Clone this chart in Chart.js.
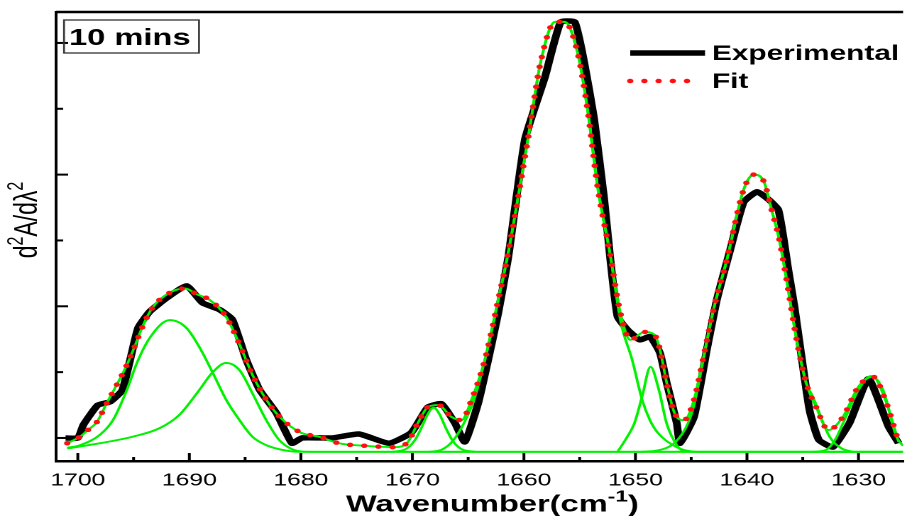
<!DOCTYPE html>
<html lang="en">
<head>
<meta charset="UTF-8">
<title>10 mins - second derivative fit</title>
<style>
  html, body { margin: 0; padding: 0; background: #fff; overflow: hidden; }
  /* the reference picture is stretched sideways, so the whole chart is too */
  #wrap { width: 639px; height: 516px; transform: scaleX(1.4194); transform-origin: 0 0; }
</style>
</head>
<body>
<div id="wrap"><canvas id="fitChart"></canvas></div>
<script src="https://cdn.jsdelivr.net/npm/chart.js"></script>
<script>
// [wavenumber, d2A/dl2]
const experimental = [
  [1701.1, 0], [1700.0, 0], [1699.5, 0.20], [1698.2, 0.50], [1697.1, 0.55], [1696.0, 0.73],
  [1694.6, 1.67], [1693.55, 1.92], [1692.0, 2.13], [1690.25, 2.31], [1688.8, 2.05], [1687.3, 1.95],
  [1686.15, 1.80], [1684.9, 1.19], [1683.7, 0.73], [1682.2, 0.38], [1680.8, -0.08], [1679.9, 0],
  [1677.2, 0], [1674.8, 0.06], [1672.1, -0.08], [1670.1, 0.08], [1668.6, 0.47], [1667.4, 0.52],
  [1666.2, 0.23], [1665.3, -0.06], [1664.1, 0.53], [1663.2, 1.19], [1662.3, 1.90], [1661.4, 2.75],
  [1659.9, 4.54], [1658.1, 5.49], [1656.7, 6.32], [1655.45, 6.32], [1654.6, 5.71], [1653.7, 4.84],
  [1652.8, 3.62], [1652.25, 2.71], [1651.6, 1.84], [1650.7, 1.64], [1649.6, 1.49], [1648.7, 1.54],
  [1647.8, 1.29], [1647.2, 0.84], [1646.3, 0.23], [1646.0, -0.08], [1644.75, 0.32], [1643.6, 1.34],
  [1642.7, 2.10], [1641.5, 2.86], [1640.3, 3.58], [1639.1, 3.74], [1638.05, 3.62], [1637.2, 3.47],
  [1636.7, 3.01], [1636.3, 2.56], [1635.75, 2.0], [1634.4, 0.43], [1633.55, -0.03], [1632.3, -0.14],
  [1630.8, 0.23], [1629.1, 0.90], [1627.3, 0.17], [1626.4, -0.08]
];
const fit = [
  [1700.95, -0.08], [1699.8, 0.02], [1699.1, 0.12], [1698.3, 0.24], [1697.4, 0.53], [1696.5, 0.81],
  [1695.6, 1.11], [1694.9, 1.39], [1694.2, 1.69], [1693.3, 1.98], [1691.6, 2.22], [1690.4, 2.27],
  [1689.3, 2.18], [1688.2, 2.10], [1686.7, 1.84], [1685.5, 1.42], [1684.35, 0.96], [1683.1, 0.58],
  [1681.9, 0.32], [1680.0, 0.08], [1678.4, 0.02], [1676.6, -0.08], [1674.2, -0.12], [1671.5, -0.14],
  [1670.4, -0.06], [1669.5, 0.23], [1668.6, 0.47], [1667.7, 0.50], [1666.5, 0.32], [1665.6, 0.27],
  [1664.7, 0.58], [1663.5, 1.19], [1662.3, 2.10], [1661.4, 2.82], [1659.6, 4.58], [1658.5, 5.71],
  [1657.2, 6.32], [1656.35, 6.32], [1655.2, 5.86], [1654.3, 4.99], [1653.4, 3.82], [1652.3, 2.82],
  [1651.35, 1.90], [1650.45, 1.49], [1649.2, 1.61], [1648.3, 1.57], [1647.8, 1.34], [1647.2, 0.84],
  [1646.5, 0.38], [1645.65, 0.27], [1644.75, 0.58], [1643.9, 1.23], [1643.0, 1.95], [1641.8, 2.71],
  [1640.3, 3.77], [1639.4, 4.00], [1638.5, 3.90], [1637.8, 3.47], [1637.1, 3.01], [1636.45, 2.40],
  [1635.6, 1.54], [1634.7, 0.84], [1633.8, 0.47], [1632.7, 0.12], [1631.4, 0.32], [1630.0, 0.78],
  [1628.7, 0.93], [1627.6, 0.58], [1626.4, -0.06]
];
// fitted component bands
const band1692 = [
  [1700.95, -0.15], [1699.8, -0.11], [1698.0, 0.05], [1696.85, 0.27], [1695.6, 0.73], [1694.7, 1.14],
  [1693.55, 1.52], [1691.75, 1.79], [1690.25, 1.67], [1689.1, 1.38], [1687.9, 0.99], [1686.7, 0.58],
  [1685.5, 0.27], [1684.35, 0.02], [1683.1, -0.11], [1681.7, -0.18], [1680.2, -0.21], [1626, -0.21]
];
const band1687 = [
  [1700.95, -0.16], [1698.0, -0.08], [1695.05, 0.02], [1692.65, 0.15], [1690.9, 0.35], [1689.1, 0.73],
  [1687.9, 1.0], [1686.7, 1.14], [1685.5, 1.03], [1684.35, 0.68], [1683.1, 0.27], [1681.95, -0.03],
  [1680.8, -0.17], [1679.3, -0.21], [1626, -0.21]
];
const band1668 = [
  [1671.8, -0.21], [1670.6, -0.17], [1669.8, -0.04], [1669.2, 0.15], [1668.6, 0.37], [1668.1, 0.46],
  [1667.6, 0.37], [1667.0, 0.15], [1666.4, -0.04], [1665.6, -0.17], [1664.4, -0.21]
];
const band1656 = [
  [1668.5, -0.21], [1667.4, -0.18], [1666.4, -0.05], [1665.3, 0.25], [1664.4, 0.62], [1663.5, 1.19],
  [1662.3, 2.10], [1661.4, 2.82], [1659.6, 4.58], [1658.5, 5.71], [1657.2, 6.32], [1656.35, 6.32],
  [1655.2, 5.86], [1654.3, 4.99], [1653.4, 3.82], [1652.3, 2.82], [1651.3, 1.75], [1650.3, 1.19],
  [1649.4, 0.58], [1648.7, 0.27], [1648.0, 0.08], [1646.3, -0.14], [1644.5, -0.21], [1626, -0.21]
];
const band1649 = [
  [1651.6, -0.21], [1650.8, 0.0], [1650.1, 0.22], [1649.4, 0.63], [1648.65, 1.08], [1647.9, 0.73],
  [1647.2, 0.22], [1646.3, -0.11], [1645.7, -0.21]
];
const band1639 = [
  [1649.5, -0.21], [1648.0, -0.19], [1646.4, -0.06], [1645.3, 0.22], [1644.75, 0.50], [1643.9, 1.2],
  [1643.0, 1.95], [1641.8, 2.71], [1640.3, 3.77], [1639.4, 4.00], [1638.5, 3.90], [1637.8, 3.47],
  [1637.1, 3.01], [1636.45, 2.40], [1635.6, 1.54], [1634.7, 0.84], [1634.1, 0.63], [1632.6, 0.02],
  [1631.5, -0.16], [1630.5, -0.21]
];
const band1629 = [
  [1634.0, -0.21], [1632.9, -0.18], [1632.0, 0.0], [1631.4, 0.22], [1630.0, 0.73], [1628.9, 0.94],
  [1627.8, 0.73], [1626.6, 0.02], [1626, -0.12]
];
const bands = [band1692, band1687, band1668, band1656, band1649, band1639, band1629];

const xTickValues = [1630, 1635, 1640, 1645, 1650, 1655, 1660, 1665, 1670, 1675, 1680, 1685, 1690, 1695, 1700];
const yTickValues = [0, 1, 2, 3, 4, 5, 6];

const pts = arr => arr.map(p => ({x: p[0], y: p[1]}));
const FONT = 'Arial, "Liberation Sans", sans-serif';

// text with real superscripts, centred on (cx, cy)
function richText(ctx, parts, cx, cy, size, weight) {
  const supSize = Math.round(size * 0.68);
  const fontOf = p => `${weight} ${p.sup ? supSize : size}px ${FONT}`;
  let total = 0;
  parts.forEach(p => { ctx.font = fontOf(p); total += ctx.measureText(p.t).width; });
  let x = cx - total / 2;
  ctx.textAlign = 'left';
  ctx.textBaseline = 'alphabetic';
  const base = cy + size * 0.36;
  parts.forEach(p => {
    ctx.font = fontOf(p);
    ctx.fillText(p.t, x, p.sup ? base - size * 0.42 : base);
    x += ctx.measureText(p.t).width;
  });
}

// axis titles, inward ticks, top frame, tag box and legend
const decor = {
  id: 'decor',
  afterDraw(chart) {
    const {ctx, chartArea: a, scales: {x, y}} = chart;
    ctx.save();
    ctx.strokeStyle = '#000';
    ctx.fillStyle = '#000';

    ctx.lineWidth = 2.5;
    ctx.beginPath();
    ctx.moveTo(a.left, a.top);
    ctx.lineTo(a.right, a.top);
    ctx.stroke();

    ctx.lineWidth = 2;
    xTickValues.forEach(v => {
      const px = x.getPixelForValue(v);
      const len = v % 10 === 0 ? 8 : 4;
      ctx.beginPath();
      ctx.moveTo(px, a.bottom);
      ctx.lineTo(px, a.bottom - len);
      ctx.stroke();
    });
    yTickValues.forEach(v => {
      const py = y.getPixelForValue(v);
      const len = v % 2 === 0 ? 8.5 : 5;
      ctx.beginPath();
      ctx.moveTo(a.left, py);
      ctx.lineTo(a.left + len, py);
      ctx.stroke();
    });

    // y title
    ctx.save();
    ctx.translate(17.5, 220);
    ctx.rotate(-Math.PI / 2);
    richText(ctx, [{t: 'd'}, {t: '2', sup: true}, {t: 'A/d'}, {t: 'λ'}, {t: '2', sup: true}], 0, 0, 23, 'normal');
    ctx.restore();

    // x title
    richText(ctx, [{t: 'Wavenumber(cm'}, {t: '-1', sup: true}, {t: ')'}],
      (a.left + a.right) / 2 + 9, 503, 23, 'bold');

    // time tag
    ctx.lineWidth = 1.3;
    ctx.strokeStyle = '#333';
    ctx.strokeRect(45.1, 20, 95.1, 33);
    ctx.font = 'bold 23px ' + FONT;
    ctx.textAlign = 'left';
    ctx.textBaseline = 'alphabetic';
    ctx.fillText('10 mins', 48.6, 45);

    // legend
    const items = chart.data.datasets.filter(d => d.inLegend);
    items.forEach((d, i) => {
      const ly = 53 + i * 28;
      ctx.save();
      ctx.strokeStyle = d.borderColor;
      ctx.lineWidth = d.borderWidth;
      ctx.lineCap = d.borderCapStyle || 'butt';
      ctx.setLineDash(d.borderDash || []);
      ctx.beginPath();
      ctx.moveTo(444, ly);
      ctx.lineTo(d.borderDash ? 488 : 496.7, ly);
      ctx.stroke();
      ctx.restore();
      ctx.font = 'bold 21px ' + FONT;
      ctx.fillText(d.label, 501.6, ly + 7);
    });
    ctx.restore();
  }
};

const green = '#00f000';
const bandSets = bands.map((b, i) => ({
  label: 'band' + i,
  data: pts(b),
  borderColor: green,
  borderWidth: 1.9,
  pointRadius: 0,
  cubicInterpolationMode: 'monotone',
  order: 2
}));

new Chart(document.getElementById('fitChart'), {
  type: 'line',
  data: {
    datasets: [
      {
        label: 'Experimental',
        inLegend: true,
        data: pts(experimental),
        borderColor: '#000',
        borderWidth: 5.5,
        borderJoinStyle: 'round',
        pointRadius: 0,
        tension: 0.15,
        order: 3
      },
      {
        label: 'Fit',
        inLegend: true,
        data: pts(fit),
        borderColor: '#ff1010',
        borderWidth: 4.5,
        borderDash: [0, 10],
        borderCapStyle: 'round',
        pointRadius: 0,
        cubicInterpolationMode: 'monotone',
        order: 0
      },
      {
        label: 'fit line',
        data: pts(fit),
        borderColor: green,
        borderWidth: 1.9,
        pointRadius: 0,
        cubicInterpolationMode: 'monotone',
        order: 1
      },
      ...bandSets
    ]
  },
  options: {
    responsive: true,
    maintainAspectRatio: false,
    devicePixelRatio: 2,
    animation: false,
    layout: { padding: { top: 12, left: 0, right: 0, bottom: 0 } },
    plugins: {
      legend: { display: false },
      tooltip: { enabled: false }
    },
    scales: {
      x: {
        type: 'linear',
        reverse: true,
        min: 1626,
        max: 1701.95,
        afterFit: s => { s.height = 55; },
        afterBuildTicks: s => { s.ticks = xTickValues.map(v => ({value: v})); },
        grid: { display: false, drawTicks: false },
        border: { display: true, color: '#000', width: 2.5 },
        ticks: {
          autoSkip: false,
          maxRotation: 0,
          padding: 9.5,
          color: '#000',
          font: { family: FONT, size: 17.4 },
          callback: v => (v % 10 === 0 ? String(v) : '')
        }
      },
      y: {
        min: -0.35,
        max: 6.47,
        afterFit: s => { s.width = 39.5; },
        afterBuildTicks: s => { s.ticks = yTickValues.map(v => ({value: v})); },
        grid: { display: false, drawTicks: false },
        border: { display: true, color: '#000', width: 2 },
        ticks: { display: false }
      }
    }
  },
  plugins: [decor]
});
</script>
</body>
</html>
